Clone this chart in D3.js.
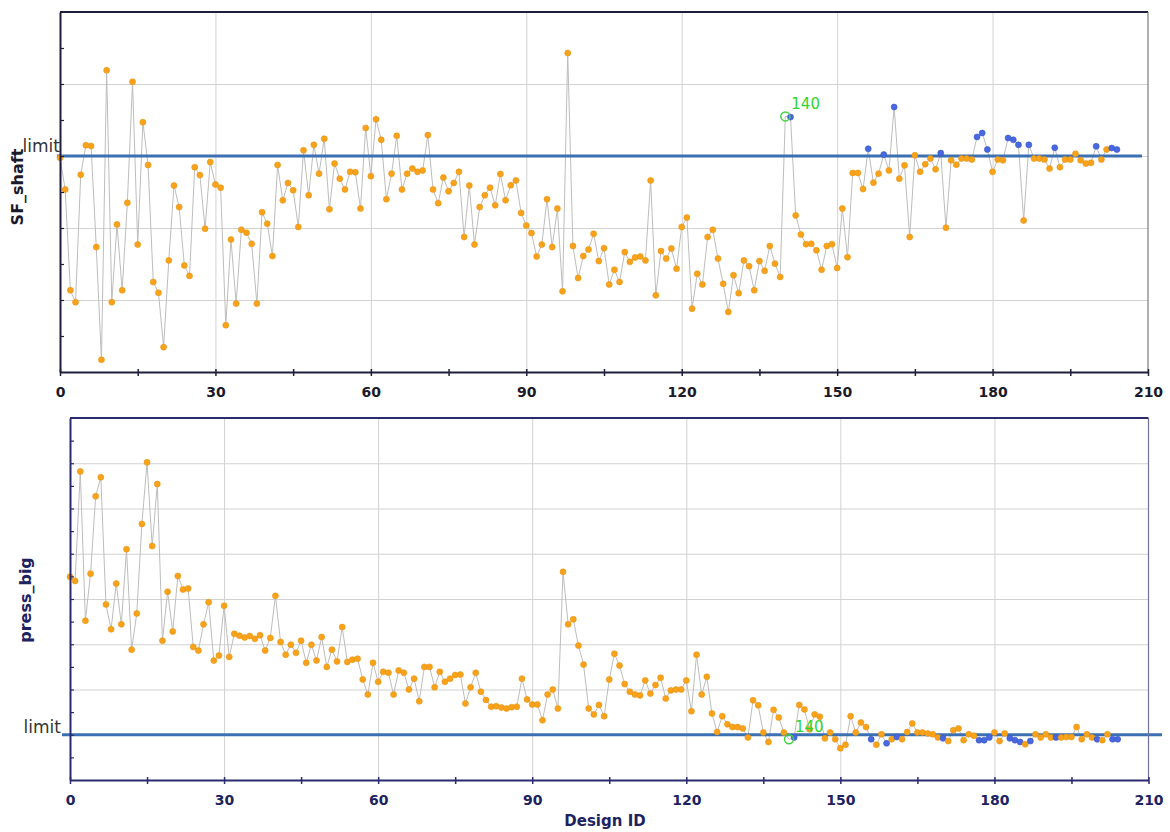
<!DOCTYPE html>
<html>
<head>
<meta charset="utf-8">
<script src="https://cdn.jsdelivr.net/npm/d3@7"></script>
<style>
body { margin: 0; background: #fff; }
</style>
</head>
<body>
<div id="chart"></div>
<script>
var designIds = d3.range(0, 205);

var sfShaft = [5.95, 5.07, 2.27, 1.94, 5.48, 6.30, 6.28, 3.47, 0.34, 8.38,
    1.94, 4.10, 2.27, 4.70, 8.06, 3.54, 6.94, 5.75, 2.50, 2.20,
    0.69, 3.10, 5.18, 4.58, 2.96, 2.67, 5.69, 5.47, 3.98, 5.83,
    5.21, 5.12, 1.30, 3.68, 1.90, 3.95, 3.87, 3.56, 1.90, 4.44,
    4.12, 3.22, 5.75, 4.77, 5.25, 5.05, 4.03, 6.16, 4.91, 6.31,
    5.51, 6.48, 4.52, 5.79, 5.37, 5.07, 5.56, 5.55, 4.54, 6.78,
    5.44, 7.02, 6.45, 4.80, 5.51, 6.56, 5.07, 5.51, 5.65, 5.56,
    5.60, 6.58, 5.07, 4.69, 5.40, 5.02, 5.25, 5.56, 3.75, 5.18,
    3.54, 4.58, 4.91, 5.12, 4.63, 5.50, 4.77, 5.19, 5.32, 4.42,
    4.07, 3.86, 3.21, 3.54, 4.80, 3.47, 4.54, 2.24, 8.86, 3.50,
    2.61, 3.22, 3.40, 3.84, 3.08, 3.44, 2.43, 2.84, 2.50, 3.33,
    3.06, 3.18, 3.21, 3.10, 5.32, 2.13, 3.36, 3.15, 3.43, 2.87,
    4.03, 4.29, 1.76, 2.73, 2.43, 3.75, 3.95, 3.15, 2.45, 1.67,
    2.69, 2.19, 3.10, 2.94, 2.27, 3.08, 2.81, 3.50, 3.01, 2.64,
    7.10, 7.08, 4.35, 3.82, 3.55, 3.56, 3.38, 2.84, 3.50, 3.55,
    2.89, 4.54, 3.19, 5.53, 5.53, 5.08, 6.20, 5.26, 5.51, 6.04,
    5.60, 7.36, 5.37, 5.74, 3.75, 6.02, 5.56, 5.77, 5.93, 5.63,
    6.08, 4.01, 5.88, 5.76, 5.93, 5.93, 5.90, 6.53, 6.64, 6.18,
    5.56, 5.90, 5.88, 6.50, 6.45, 6.31, 4.21, 6.31, 5.93, 5.93,
    5.90, 5.65, 6.23, 5.69, 5.90, 5.90, 6.06, 5.88, 5.79, 5.81,
    6.27, 5.90, 6.18, 6.22, 6.18];

var pressBig = [4.49, 4.40, 6.82, 3.52, 4.56, 6.27, 6.69, 3.88, 3.33, 4.34,
    3.44, 5.10, 2.88, 3.68, 5.66, 7.02, 5.17, 6.54, 3.08, 4.16,
    3.28, 4.51, 4.21, 4.23, 2.94, 2.86, 3.44, 3.93, 2.64, 2.75,
    3.85, 2.72, 3.23, 3.19, 3.15, 3.18, 3.12, 3.20, 2.86, 3.14,
    4.07, 3.05, 2.77, 2.99, 2.81, 3.08, 2.59, 2.99, 2.64, 3.16,
    2.50, 2.88, 2.62, 3.38, 2.61, 2.66, 2.68, 2.22, 1.89, 2.59,
    2.17, 2.39, 2.37, 1.89, 2.42, 2.37, 2.00, 2.24, 1.74, 2.50,
    2.50, 2.05, 2.39, 2.17, 2.24, 2.32, 2.33, 1.69, 2.05, 2.37,
    1.95, 1.77, 1.62, 1.63, 1.60, 1.58, 1.61, 1.62, 2.24, 1.78,
    1.67, 1.67, 1.32, 1.89, 2.00, 1.58, 4.60, 3.44, 3.55, 2.97,
    2.55, 1.58, 1.45, 1.66, 1.41, 2.22, 2.79, 2.53, 2.12, 1.95,
    1.89, 1.87, 2.20, 1.91, 2.10, 2.26, 1.80, 1.98, 2.00, 2.00,
    2.20, 1.52, 2.77, 1.89, 2.28, 1.47, 1.06, 1.41, 1.23, 1.17,
    1.17, 1.14, 0.94, 1.76, 1.65, 1.05, 0.84, 1.55, 1.38, 1.05,
    0.90, 0.94, 1.66, 1.56, 1.12, 1.45, 1.40, 0.92, 1.05, 0.90,
    0.70, 0.78, 1.41, 1.05, 1.27, 1.17, 0.90, 0.78, 1.01, 0.81,
    0.90, 0.95, 0.90, 1.06, 1.25, 1.05, 1.05, 1.03, 1.01, 0.94,
    0.92, 0.86, 1.10, 1.14, 0.88, 1.01, 0.98, 0.88, 0.88, 0.94,
    1.05, 0.86, 1.03, 0.92, 0.88, 0.84, 0.79, 0.86, 1.01, 0.94,
    1.01, 0.94, 0.94, 0.94, 0.95, 0.95, 1.17, 0.90, 1.01, 0.94,
    0.90, 0.88, 1.01, 0.90, 0.90];

var sfLimit = 6;
var pressLimit = 1;
var selectedId = 140;

var xTicks = [0, 30, 60, 90, 120, 150, 180, 210];
var xMinorTicks = [15, 45, 75, 105, 135, 165, 195];
var sfGrid = [2, 4, 6, 8];
var sfTicks = [1, 2, 3, 4, 5, 6, 7, 8, 9];
var pressGrid = [1, 2, 3, 4, 5, 6, 7];
var pressTicks = [0.5, 1, 1.5, 2, 2.5, 3, 3.5, 4, 4.5, 5, 5.5, 6, 6.5, 7, 7.5];

var width = 1170;
var height = 832;

var svg = d3.select('#chart')
    .append('svg')
    .attr('width', width)
    .attr('height', height)
    .style('font-family', '"DejaVu Sans", Verdana, sans-serif');

// a design is blue when it passes both limits
function feasible(i) {
    return sfShaft[i] >= sfLimit && pressBig[i] <= pressLimit;
}

drawPanel({
    values: sfShaft, limit: sfLimit, yDomain: [0, 10],
    left: 60, right: 1148, top: 12, bottom: 372,
    grid: sfGrid, ticks: sfTicks,
    label: 'SF_shaft', labelX: 17, labelY: 187,
    limitLine: [57, 1142], limitText: [60, 152],
    axisColor: '#1e1e3c', textColor: '#1a1a2a', frameRight: '#7a7a7a'
});

drawPanel({
    values: pressBig, limit: pressLimit, yDomain: [0, 8],
    left: 70, right: 1148.5, top: 418, bottom: 780,
    grid: pressGrid, ticks: pressTicks,
    label: 'press_big', labelX: 25, labelY: 600,
    limitLine: [62, 1162], limitText: [61, 733],
    axisColor: '#2a2a6e', textColor: '#1d2260', frameRight: '#7070a0'
});

svg.append('text')
    .attr('x', 605)
    .attr('y', 826)
    .attr('text-anchor', 'middle')
    .attr('font-size', 15)
    .attr('font-weight', 'bold')
    .attr('fill', '#1d2260')
    .text('Design ID');

function drawPanel(p) {
    var x = d3.scaleLinear().domain([0, 210]).range([p.left, p.right]);
    var y = d3.scaleLinear().domain(p.yDomain).range([p.bottom, p.top]);
    var g = svg.append('g');

    // grid
    g.append('g')
        .attr('transform', 'translate(0,' + p.bottom + ')')
        .call(d3.axisBottom(x).tickValues(xTicks.slice(1, -1)).tickSize(p.top - p.bottom).tickFormat(''))
        .call(function (a) { a.select('.domain').remove(); })
        .selectAll('line').attr('stroke', '#d2d2d2');

    g.append('g')
        .attr('transform', 'translate(' + p.left + ',0)')
        .call(d3.axisLeft(y).tickValues(p.grid).tickSize(p.left - p.right).tickFormat(''))
        .call(function (a) { a.select('.domain').remove(); })
        .selectAll('line').attr('stroke', '#d2d2d2');

    // connecting line
    var line = d3.line()
        .x(function (d) { return x(d); })
        .y(function (d) { return y(p.values[d]); });

    g.append('path')
        .datum(designIds)
        .attr('d', line)
        .attr('fill', 'none')
        .attr('stroke', '#bdbdbd')
        .attr('stroke-width', 1);

    // limit line
    g.append('line')
        .attr('x1', p.limitLine[0])
        .attr('x2', p.limitLine[1])
        .attr('y1', y(p.limit))
        .attr('y2', y(p.limit))
        .attr('stroke', '#3b70b3')
        .attr('stroke-width', 3);

    g.append('text')
        .attr('x', p.limitText[0])
        .attr('y', p.limitText[1])
        .attr('text-anchor', 'end')
        .attr('font-size', 17)
        .attr('fill', '#333333')
        .text('limit');

    // points
    g.append('g')
        .selectAll('circle')
        .data(designIds.filter(function (d) { return d !== selectedId; }))
        .enter()
        .append('circle')
        .attr('cx', function (d) { return x(d); })
        .attr('cy', function (d) { return y(p.values[d]); })
        .attr('r', 3)
        .attr('fill', function (d) { return feasible(d) ? '#4768e0' : '#f9a21a'; })
        .attr('stroke', function (d) { return feasible(d) ? '#3a56c0' : '#e59412'; })
        .attr('stroke-width', 0.6);

    g.append('circle')
        .attr('cx', x(selectedId))
        .attr('cy', y(p.values[selectedId]))
        .attr('r', 4.5)
        .attr('fill', 'none')
        .attr('stroke', '#3fd43f')
        .attr('stroke-width', 1.5);

    g.append('text')
        .attr('x', x(selectedId) + 6)
        .attr('y', y(p.values[selectedId]) - 7)
        .attr('font-size', 15)
        .attr('fill', '#2fd62f')
        .text(selectedId);

    // frame
    g.append('line')
        .attr('x1', p.left).attr('x2', p.right)
        .attr('y1', p.top).attr('y2', p.top)
        .attr('stroke', p.axisColor).attr('stroke-width', 2);
    g.append('line')
        .attr('x1', p.right).attr('x2', p.right)
        .attr('y1', p.top).attr('y2', p.bottom)
        .attr('stroke', p.frameRight).attr('stroke-width', 1.2);

    // axes
    var xAxis = g.append('g')
        .attr('transform', 'translate(0,' + p.bottom + ')')
        .call(d3.axisBottom(x).tickValues(xTicks).tickSize(0).tickPadding(15).tickSizeOuter(0));
    xAxis.select('.domain').attr('stroke', p.axisColor).attr('stroke-width', 2);
    xAxis.selectAll('text')
        .attr('font-size', 14)
        .attr('font-weight', 'bold')
        .attr('fill', p.textColor)
        .attr('font-family', '"DejaVu Sans", Verdana, sans-serif');

    g.append('g')
        .attr('transform', 'translate(0,' + p.bottom + ')')
        .call(d3.axisBottom(x).tickValues(xTicks.concat(xMinorTicks)).tickSize(4).tickFormat(''))
        .call(function (a) { a.select('.domain').remove(); })
        .selectAll('line')
        .attr('y1', -3)
        .attr('stroke', p.axisColor)
        .attr('stroke-width', 1.5);

    var yAxis = g.append('g')
        .attr('transform', 'translate(' + p.left + ',0)')
        .call(d3.axisLeft(y).tickValues(p.ticks).tickSize(-4).tickSizeOuter(0).tickFormat(''));
    yAxis.select('.domain').attr('stroke', p.axisColor).attr('stroke-width', 2);
    yAxis.selectAll('line').attr('stroke', p.axisColor).attr('stroke-width', 1.2);

    g.append('text')
        .attr('transform', 'translate(' + p.labelX + ',' + p.labelY + ') rotate(-90)')
        .attr('text-anchor', 'middle')
        .attr('dy', '0.35em')
        .attr('font-size', 16)
        .attr('font-weight', 'bold')
        .attr('fill', p.textColor)
        .text(p.label);
}
</script>
</body>
</html>
